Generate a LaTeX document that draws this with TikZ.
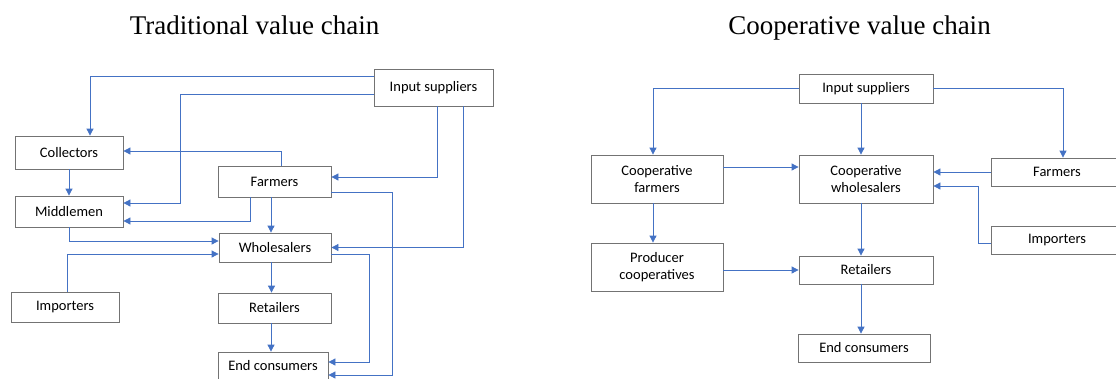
\documentclass[tikz,border=0pt]{standalone}
\usepackage{fontspec}
\usetikzlibrary{arrows.meta}
\setmainfont{Liberation Serif}
\newfontfamily\carlito{Carlito}
\definecolor{flowblue}{RGB}{68,114,196}
\begin{document}
\begin{tikzpicture}[x=1pt,y=-1pt,
    box/.style={draw=black!55,line width=0.8pt,fill=white,align=center,inner sep=0pt,
      font=\carlito\fontsize{14.5}{17.7}\selectfont},
    flow/.style={draw=flowblue,line width=0.8pt,-{Triangle[length=7pt,width=7pt]}},
    title/.style={anchor=base,font=\fontsize{27}{32}\selectfont}]
  \useasboundingbox (0,0) rectangle (1116,378);
  \node[title] (ttrad) at (254.5,34) {Traditional value chain};
  \node[title] (tcoop) at (859.5,34) {Cooperative value chain};

  % traditional
  \node[box,minimum width=119,minimum height=37] (insup) at (433.5,87.5) {Input suppliers};
  \node[box,minimum width=108,minimum height=33] (coll) at (69,152.5) {Collectors};
  \node[box,minimum width=113,minimum height=31] (farm) at (274.5,181.5) {Farmers};
  \node[box,minimum width=108,minimum height=31] (midd) at (69,211.5) {Middlemen};
  \node[box,minimum width=112,minimum height=29] (whol) at (275,247.5) {Wholesalers};
  \node[box,minimum width=108,minimum height=30] (impo) at (65,307) {Importers};
  \node[box,minimum width=113,minimum height=30] (reta) at (274.5,308) {Retailers};
  \node[box,minimum width=110,minimum height=28] (endc) at (273,366) {End consumers};

  \draw[flow] ([yshift=11.5pt]insup.west) -| ([xshift=21pt]coll.north);
  \draw[flow] ([yshift=-7pt]insup.west) -- ++(-193,0) |- ([yshift=8.5pt]midd.east);
  \draw[flow] ([xshift=3.5pt]insup.south) |- ([yshift=4.5pt]farm.east);
  \draw[flow] ([xshift=29.5pt]insup.south) |- (whol.east);
  \draw[flow] ([xshift=6.5pt]farm.north) |- ([yshift=1.5pt]coll.east);
  \draw[flow] (coll.south) -- (midd.north);
  \draw[flow] ([xshift=-24.5pt]farm.south) |- ([yshift=-9.5pt]midd.east);
  \draw[flow] ([xshift=-3.5pt]farm.south) -- ([xshift=-3.5pt]farm.south |- whol.north);
  \draw[flow] ([yshift=-10.5pt]farm.east) -- ++(61,0) |- ([yshift=-9pt]endc.east);
  \draw[flow] (midd.south) |- ([yshift=6.5pt]whol.west);
  \draw[flow] ([xshift=2pt]impo.north) |- ([yshift=-6.5pt]whol.west);
  \draw[flow] ([yshift=-6.5pt]whol.east) -- ++(38,0) |- ([yshift=4pt]endc.east);
  \draw[flow] ([xshift=-3.5pt]whol.south) -- ([xshift=-3.5pt]whol.south |- reta.north);
  \draw[flow] ([xshift=-3.5pt]reta.south) -- ([xshift=-3.5pt]reta.south |- endc.north);

  % cooperative
  \node[box,minimum width=134,minimum height=29] (cinsup) at (866,88.5) {Input suppliers};
  \node[box,minimum width=132,minimum height=48] (cfarm) at (657,179) {Cooperative\\farmers};
  \node[box,minimum width=134,minimum height=48] (cwhol) at (866,179) {Cooperative\\wholesalers};
  \node[box,minimum width=132,minimum height=28] (rfarm) at (1057,172) {Farmers};
  \node[box,minimum width=132,minimum height=28] (rimpo) at (1057,240) {Importers};
  \node[box,minimum width=132,minimum height=48] (pcoop) at (657,267) {Producer\\cooperatives};
  \node[box,minimum width=134,minimum height=28] (rreta) at (866,270) {Retailers};
  \node[box,minimum width=132,minimum height=28] (rendc) at (864,348) {End consumers};

  \draw[flow] (cinsup.west) -| ([xshift=-4pt]cfarm.north);
  \draw[flow] ([xshift=-5pt]cinsup.south) -- ([xshift=-5pt]cinsup.south |- cwhol.north);
  \draw[flow] (cinsup.east) -| ([xshift=6pt]rfarm.north);
  \draw[flow] ([yshift=12pt]cfarm.east) -- ([yshift=12pt]cwhol.west);
  \draw[flow] (rfarm.west) -- (rfarm.west -| cwhol.east);
  \draw[flow] ([yshift=-3pt]rimpo.west) -- ++(-12,0) |- ([yshift=-7pt]cwhol.east);
  \draw[flow] ([xshift=-4pt]cfarm.south) -- ([xshift=-4pt]cfarm.south |- pcoop.north);
  \draw[flow] ([xshift=-5pt]cwhol.south) -- ([xshift=-5pt]cwhol.south |- rreta.north);
  \draw[flow] (rreta.west -| pcoop.east) -- (rreta.west);
  \draw[flow] ([xshift=-5pt]rreta.south) -- ([xshift=-5pt]rreta.south |- rendc.north);
\end{tikzpicture}
\end{document}
